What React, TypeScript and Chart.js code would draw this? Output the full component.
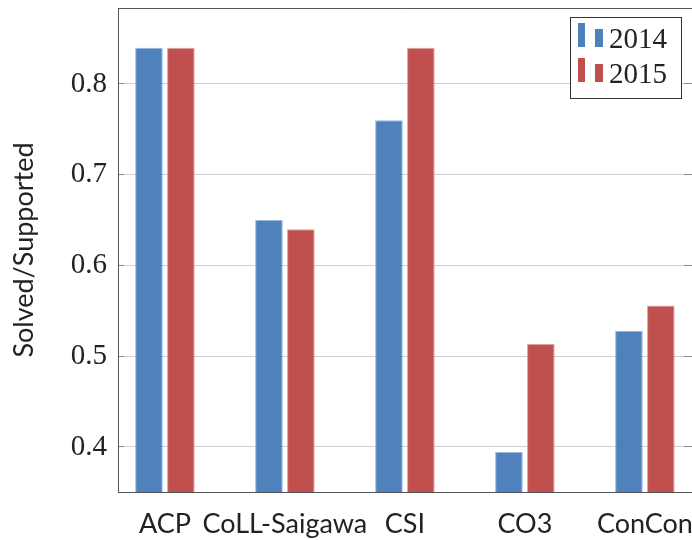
import React, { useEffect, useRef } from 'react';
import { Chart, registerables } from 'chart.js';

Chart.register(...registerables);

const categories = ['ACP', 'CoLL-Saigawa', 'CSI', 'CO3', 'ConCon'];
const seriesLabels = ['2014', '2015'];
const values2014 = [0.84, 0.65, 0.76, 0.3945, 0.528];
const values2015 = [0.84, 0.64, 0.84, 0.5135, 0.556];
const yTickValues = [0.4, 0.5, 0.6, 0.7, 0.8];
const yRange = [0.3504, 0.8837];
const xRange = [-0.391, 4.401];

const BLUE = '#4F81BD';
const RED = '#C0504D';
const SERIF = "'Liberation Serif', 'DejaVu Serif', serif";
const SANS = "Lato, 'Open Sans', sans-serif";

const frameAndLegend = {
  id: 'frameAndLegend',
  afterDraw(chart: any) {
    const { ctx, chartArea } = chart;
    ctx.save();
    // top frame line
    ctx.strokeStyle = '#555';
    ctx.lineWidth = 1;
    ctx.beginPath();
    ctx.moveTo(chartArea.left, Math.round(chartArea.top) + 0.5);
    ctx.lineTo(chartArea.right, Math.round(chartArea.top) + 0.5);
    ctx.stroke();

    // legend box
    const boxR = chartArea.right - 12;
    const boxL = boxR - 111;
    const boxT = chartArea.top + 9;
    const boxB = boxT + 81;
    ctx.fillStyle = '#fff';
    ctx.fillRect(boxL, boxT, boxR - boxL, boxB - boxT);
    ctx.strokeStyle = '#333';
    ctx.strokeRect(Math.round(boxL) + 0.5, Math.round(boxT) + 0.5, boxR - boxL, boxB - boxT);

    chart.data.datasets.forEach((ds: any, i: number) => {
      const rowBottom = boxT + 30 + i * 35;
      ctx.fillStyle = ds.backgroundColor;
      ctx.fillRect(boxL + 8, rowBottom - 24, 7, 24);
      ctx.fillRect(boxL + 25, rowBottom - 18, 8, 18);
      ctx.fillStyle = '#222';
      ctx.font = `29px ${SERIF}`;
      ctx.textBaseline = 'alphabetic';
      ctx.textAlign = 'left';
      ctx.fillText(ds.label, boxL + 39, rowBottom + 1);
    });
    ctx.restore();
  },
};

export default function App() {
  const ref = useRef<HTMLCanvasElement | null>(null);

  useEffect(() => {
    if (!ref.current) return;
    const chart = new Chart(ref.current, {
      type: 'bar',
      data: {
        datasets: [
          {
            label: seriesLabels[0],
            data: values2014.map((v, i) => ({ x: i, y: v })),
            backgroundColor: BLUE,
            borderColor: 'rgba(140,175,220,0.9)',
            borderWidth: 1,
          },
          {
            label: seriesLabels[1],
            data: values2015.map((v, i) => ({ x: i, y: v })),
            backgroundColor: RED,
            borderColor: 'rgba(220,150,150,0.9)',
            borderWidth: 1,
          },
        ],
      },
      plugins: [frameAndLegend],
      options: {
        animation: false,
        responsive: false,
        devicePixelRatio: 1,
        categoryPercentage: 0.532,
        barPercentage: 0.865,
        layout: { padding: { top: 8, left: 0, right: 0, bottom: 0 } },
        plugins: { legend: { display: false }, tooltip: { enabled: false } },
        scales: {
          x: {
            type: 'linear',
            offset: false,
            min: xRange[0],
            max: xRange[1],
            afterBuildTicks: (s: any) => {
              s.ticks = categories.map((_, i) => ({ value: i }));
            },
            afterFit: (s: any) => {
              s.height = 48;
              s.paddingLeft = 0;
              s.paddingRight = 0;
            },
            grid: { display: true, offset: false, drawOnChartArea: false, drawTicks: false },
            border: { display: true, color: '#555', width: 1 },
            ticks: {
              autoSkip: false,
              maxRotation: 0,
              padding: 16,
              color: '#222',
              font: { family: SANS, size: 27 },
              callback: (v: any) => categories[v] ?? '',
            },
          },
          y: {
            type: 'linear',
            position: 'left',
            min: yRange[0],
            max: yRange[1],
            afterBuildTicks: (s: any) => {
              s.ticks = yTickValues.map((v) => ({ value: v }));
            },
            afterFit: (s: any) => {
              s.width = 118;
              s.paddingTop = 0;
              s.paddingBottom = 0;
            },
            grid: { color: '#cfcfcf', lineWidth: 1, tickLength: -6, tickColor: '#888' },
            border: { display: true, color: '#555', width: 1 },
            title: {
              display: true,
              text: 'Solved/Supported',
              color: '#222',
              font: { family: SANS, size: 27 },
              padding: { top: 8, bottom: 0 },
            },
            ticks: {
              padding: 17,
              color: '#222',
              font: { family: SERIF, size: 29 },
              callback: (v: any) => Number(v).toFixed(1),
            },
          },
          y2: {
            type: 'linear',
            position: 'right',
            min: yRange[0],
            max: yRange[1],
            afterBuildTicks: (s: any) => {
              s.ticks = yTickValues.map((v) => ({ value: v }));
            },
            afterFit: (s: any) => {
              s.width = 0;
              s.paddingTop = 0;
              s.paddingBottom = 0;
            },
            grid: { drawOnChartArea: false, tickLength: -9, tickColor: '#888' },
            border: { display: true, color: '#555', width: 1 },
            ticks: { display: false },
          },
        },
      },
    } as any);
    return () => chart.destroy();
  }, []);

  return (
    <div style={{ position: 'absolute', left: 0, top: 0, width: 692, height: 540, overflow: 'hidden', background: '#fff' }}>
      <canvas ref={ref} width={693} height={540} style={{ display: 'block' }} />
    </div>
  );
}
